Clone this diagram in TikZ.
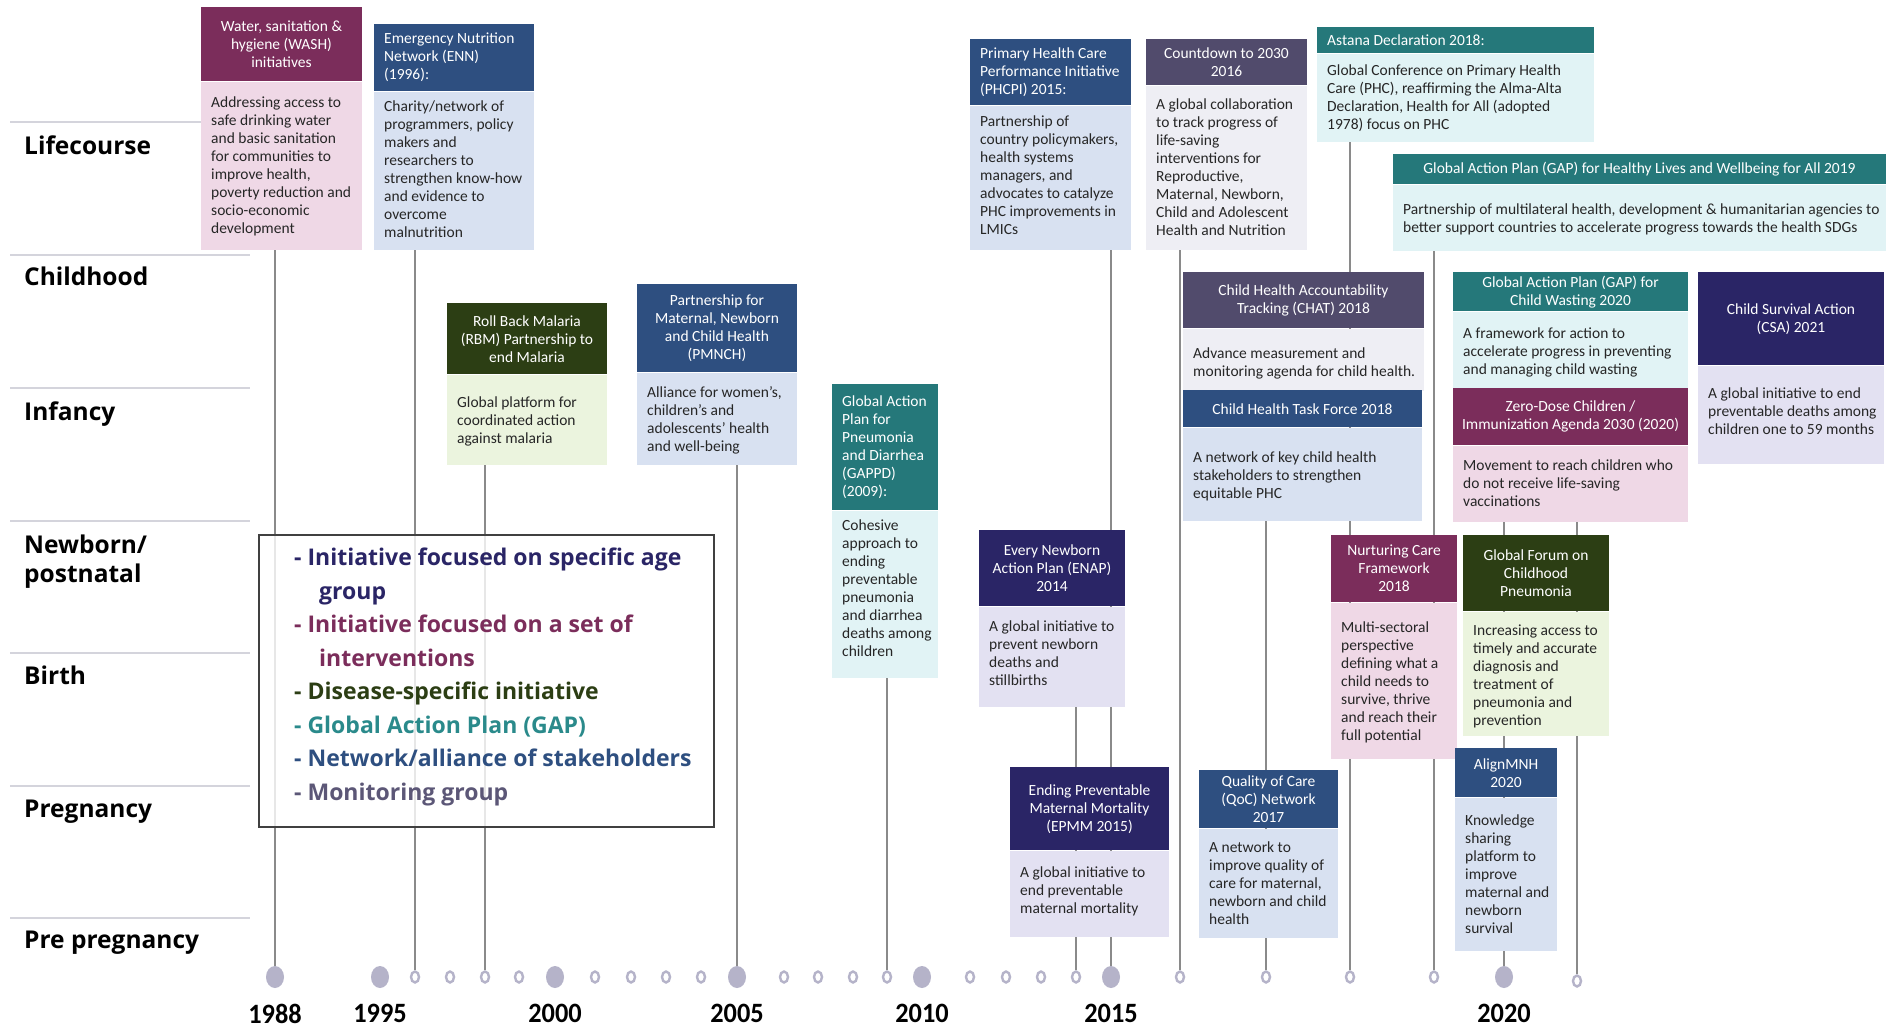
\documentclass[tikz,border=0pt]{standalone}
\usepackage{fontspec}
\usepackage{graphicx}
\setmainfont{Carlito}
\newfontfamily\labfont{Open Sans}
\usetikzlibrary{positioning,shapes.geometric,backgrounds}
\definecolor{agec}{HTML}{2A2566}
\definecolor{agel}{HTML}{E3E1F2}
\definecolor{setc}{HTML}{7B2D5B}
\definecolor{setl}{HTML}{EFD8E6}
\definecolor{disc}{HTML}{2C3E14}
\definecolor{disl}{HTML}{EBF4DE}
\definecolor{gapc}{HTML}{25787A}
\definecolor{gapl}{HTML}{E1F3F5}
\definecolor{gapt}{HTML}{2A8A8B}
\definecolor{netc}{HTML}{2E4F80}
\definecolor{netl}{HTML}{D8E1F1}
\definecolor{monc}{HTML}{514B6C}
\definecolor{monl}{HTML}{EEEEF4}
\definecolor{mont}{HTML}{5C5777}
\definecolor{dotc}{HTML}{B5B3C9}
\definecolor{stemc}{HTML}{8A8A8A}
\definecolor{rulec}{HTML}{D4D4DC}
\newcommand{\boxfont}{\fontsize{15.5}{18}\selectfont}
\newcommand{\legfont}{\labfont\bfseries\fontsize{23}{33.5}\selectfont}
\newcommand{\stagefont}{\labfont\bfseries\fontsize{24.5}{29}\selectfont}
\newcommand{\yrfont}{\bfseries\fontsize{28}{30}\selectfont}
\newcommand{\yr}[1]{\scalebox{0.94}[1]{#1}}
\tikzset{
  hd/.style={anchor=north west,inner sep=0pt},
  agehd/.style={hd,fill=agec},
  sethd/.style={hd,fill=setc},
  dishd/.style={hd,fill=disc},
  gaphd/.style={hd,fill=gapc},
  nethd/.style={hd,fill=netc},
  monhd/.style={hd,fill=monc},
  bd/.style={anchor=north west,inner sep=0pt},
  agebd/.style={bd,fill=agel},
  setbd/.style={bd,fill=setl},
  disbd/.style={bd,fill=disl},
  gapbd/.style={bd,fill=gapl},
  netbd/.style={bd,fill=netl},
  monbd/.style={bd,fill=monl},
  htxt/.style={inner sep=0pt,text=white,font=\boxfont},
  hmode/.style={anchor=center,align=center,xshift=\hw pt},
  hl/.style={hmode/.style={anchor=west,align=left,xshift=10pt}},
  bpad/.store in=\bpad, bpad=0,
  btxt/.style={anchor=north west,inner xsep=10pt,inner ysep=9pt,align=left,font=\boxfont,text=black!85},
  stemline/.style={draw=stemc,line width=1.5pt},
  bigdot/.style={ellipse,fill=dotc,minimum width=18pt,minimum height=22pt,inner sep=0pt},
  smalldot/.style={ellipse,draw=dotc,fill=white,line width=2.4pt,minimum width=8pt,minimum height=11pt,inner sep=0pt},
  yr/.style={font=\yrfont,inner sep=0pt},
  stage/.style={anchor=base west,inner sep=0pt,font=\stagefont},
  rowline/.style={draw=rulec,line width=1.2pt},
  legbox/.style={anchor=north west,draw=black!75,line width=1.5pt,fill=white,fill opacity=0.8},
  legtxt/.style={anchor=north west,inner sep=0pt,align=left,font=\legfont},
}
\newcommand{\initbox}[9][]{%
  \pgfmathsetmacro{\hw}{#5/2}%
  \begin{scope}[bpad=0,#1]
    \node[#3hd,minimum width=#5pt,minimum height=#6pt] (#2) at #4 {};
    \node[htxt,hmode] (#2h) at (#2.west) {#8};
    \node[#3bd,minimum width=#5pt,minimum height=#7pt] (#2b) at (#2.south west) {};
    \node[btxt,yshift=-\bpad pt] (#2t) at (#2b.north west) {#9};
  \end{scope}
}

\begin{document}
\begin{tikzpicture}[x=1pt,y=-1pt]
  \useasboundingbox (0,0) rectangle (1896,1030);
  \begin{scope}[on background layer]
    \fill[white] (0,0) rectangle (1896,1030);
  \end{scope}
  \foreach \y in {122,255,388,521,653,786,918}
    \draw[rowline] (10,\y) -- (250,\y);
  \node[stage] (lc) at (24,155) {Lifecourse};
  \node[stage] (ch) at (24,285) {Childhood};
  \node[stage] (inf) at (24,420) {Infancy};
  \node[stage,anchor=north west,align=left] (nb) at (24,535) {Newborn/\\postnatal};
  \node[stage] (bi) at (24,684) {Birth};
  \node[stage] (pg) at (24,817) {Pregnancy};
  \node[stage] (pp) at (24,948) {Pre pregnancy};

  \initbox[bpad=6]{wash}{set}{(201,7)}{161}{74}{168}{Water, sanitation \&\\hygiene (WASH)\\initiatives}{Addressing access to\\safe drinking water\\and basic sanitation\\for communities to\\improve health,\\poverty reduction and\\socio-economic\\development}
  \initbox[hl]{enn}{net}{(374,24)}{160}{67}{158}{Emergency Nutrition\\Network (ENN)\\(1996):}{Charity/network of\\programmers, policy\\makers and\\researchers to\\strengthen know-how\\and evidence to\\overcome\\malnutrition}
  \initbox[bpad=13]{rbm}{dis}{(447,303)}{160}{71}{90}{Roll Back Malaria\\(RBM) Partnership to\\end Malaria}{Global platform for\\coordinated action\\against malaria}
  \initbox[bpad=5]{pmnch}{net}{(637,284)}{160}{88}{92}{Partnership for\\Maternal, Newborn\\and Child Health\\(PMNCH)}{Alliance for women’s,\\children’s and\\adolescents’ health\\and well-being}
  \initbox[hl]{gappd}{gap}{(832,384)}{106}{126}{167}{Global Action\\Plan for\\Pneumonia\\and Diarrhea\\(GAPPD)\\(2009):}{Cohesive\\approach to\\ending\\preventable\\pneumonia\\and diarrhea\\deaths among\\children}
  \initbox[hl,bpad=1]{phcpi}{net}{(970,39)}{161}{66}{144}{Primary Health Care\\Performance Initiative\\(PHCPI) 2015:}{Partnership of\\country policymakers,\\health systems\\managers, and\\advocates to catalyze\\PHC improvements in\\LMICs}
  \initbox[bpad=4]{cd}{mon}{(1146,39)}{161}{46}{164}{Countdown to 2030\\2016}{A global collaboration\\to track progress of\\life-saving\\interventions for\\Reproductive,\\Maternal, Newborn,\\Child and Adolescent\\Health and Nutrition}
  \initbox[hl,bpad=2]{astana}{gap}{(1317,27)}{277}{26}{88}{Astana Declaration 2018:}{Global Conference on Primary Health\\Care (PHC), reaffirming the Alma-Alta\\Declaration, Health for All (adopted\\1978) focus on PHC}
  \initbox[bpad=10]{gaphl}{gap}{(1393,154)}{493}{30}{66}{Global Action Plan (GAP) for Healthy Lives and Wellbeing for All 2019}{Partnership of multilateral health, development \& humanitarian agencies to\\better support countries to accelerate progress towards the health SDGs}
  \initbox[bpad=10]{chat}{mon}{(1183,272)}{241}{56}{62}{Child Health Accountability\\Tracking (CHAT) 2018}{Advance measurement and\\monitoring agenda for child health.}
  \initbox[bpad=15]{chtf}{net}{(1183,390)}{239}{37}{93}{Child Health Task Force 2018}{A network of key child health\\stakeholders to strengthen\\equitable PHC}
  \initbox[bpad=7]{gapcw}{gap}{(1453,272)}{235}{39}{77}{Global Action Plan (GAP) for\\Child Wasting 2020}{A framework for action to\\accelerate progress in preventing\\and managing child wasting}
  \initbox[bpad=5]{zd}{set}{(1453,388)}{235}{57}{76}{Zero-Dose Children /\\Immunization Agenda 2030 (2020)}{Movement to reach children who\\do not receive life-saving\\vaccinations}
  \initbox[bpad=13]{csa}{age}{(1698,272)}{186}{93}{98}{Child Survival Action\\(CSA) 2021}{A global initiative to end\\preventable deaths among\\children one to 59 months}
  \initbox[bpad=5]{enap}{age}{(979,530)}{146}{76}{100}{Every Newborn\\Action Plan (ENAP)\\2014}{A global initiative to\\prevent newborn\\deaths and\\stillbirths}
  \initbox[bpad=7]{epmm}{age}{(1010,767)}{159}{83}{86}{Ending Preventable\\Maternal Mortality\\(EPMM 2015)}{A global initiative to\\end preventable\\maternal mortality}
  \initbox[bpad=4]{qoc}{net}{(1199,770)}{139}{58}{109}{Quality of Care\\(QoC) Network\\2017}{A network to\\improve quality of\\care for maternal,\\newborn and child\\health}
  \initbox[bpad=10]{ncf}{set}{(1331,535)}{126}{67}{156}{Nurturing Care\\Framework\\2018}{Multi-sectoral\\perspective\\defining what a\\child needs to\\survive, thrive\\and reach their\\full potential}
  \initbox[bpad=4]{gfcp}{dis}{(1463,535)}{146}{76}{124}{Global Forum on\\Childhood\\Pneumonia}{Increasing access to\\timely and accurate\\diagnosis and\\treatment of\\pneumonia and\\prevention}
  \initbox[bpad=8]{amnh}{net}{(1455,748)}{102}{49}{153}{AlignMNH\\2020}{Knowledge\\sharing\\platform to\\improve\\maternal and\\newborn\\survival}

  \node[legbox,minimum width=455pt,minimum height=292pt] (leg) at (258,534) {};
  \node[legtxt] (legt) at (294,548) {\textcolor{agec}{- Initiative focused on specific age}\\\hspace*{25pt}\textcolor{agec}{group}\\\textcolor{setc}{- Initiative focused on a set of}\\\hspace*{25pt}\textcolor{setc}{interventions}\\\textcolor{disc}{- Disease-specific initiative}\\\textcolor{gapt}{- Global Action Plan (GAP)}\\\textcolor{netc}{- Network/alliance of stakeholders}\\\textcolor{mont}{- Monitoring group}};

  \foreach \x/\n in {275/1988,380/1995,555/2000,737/2005,922/2010,1111/2015,1504/2020}{
    \node[bigdot] (d\n) at (\x,977) {};
    \node[yr,below=16pt of d\n] (y\n) {\yr{\n}};
  }
  \foreach \x/\n in {415/1996,450/1997,485/1998,519/1999,595/2001,631/2002,666/2003,701/2004,784/2006,818/2007,853/2008,887/2009,970/2011,1006/2012,1041/2013,1076/2014,1180/2016,1266/2017,1350/2018,1434/2019}
    \node[smalldot] (d\n) at (\x,977) {};
  \node[smalldot] (d2021) at (1577,981) {};

  \begin{scope}[on background layer]
    \draw[stemline] (d1988.north) -- (d1988 |- washb.south);
    \draw[stemline] (d1996.north) -- (d1996 |- ennb.south);
    \draw[stemline] (d1998.north) -- (d1998 |- rbmb.south);
    \draw[stemline] (d2005.north) -- (d2005 |- pmnchb.south);
    \draw[stemline] (d2009.north) -- (d2009 |- gappdb.south);
    \draw[stemline] (d2014.north) -- (d2014 |- enapb.south);
    \draw[stemline] (d2015.north) -- (d2015 |- phcpib.south);
    \draw[stemline] (d2016.north) -- (d2016 |- cdb.south);
    \draw[stemline] (d2017.north) -- (d2017 |- chtfb.south);
    \draw[stemline] (d2018.north) -- (d2018 |- astanab.south);
    \draw[stemline] (d2019.north) -- (d2019 |- gaphlb.south);
    \draw[stemline] (d2020.north) -- (d2020 |- zdb.south);
    \draw[stemline] (d2021.north) -- (d2021 |- zdb.south);
  \end{scope}
\end{tikzpicture}
\end{document}
